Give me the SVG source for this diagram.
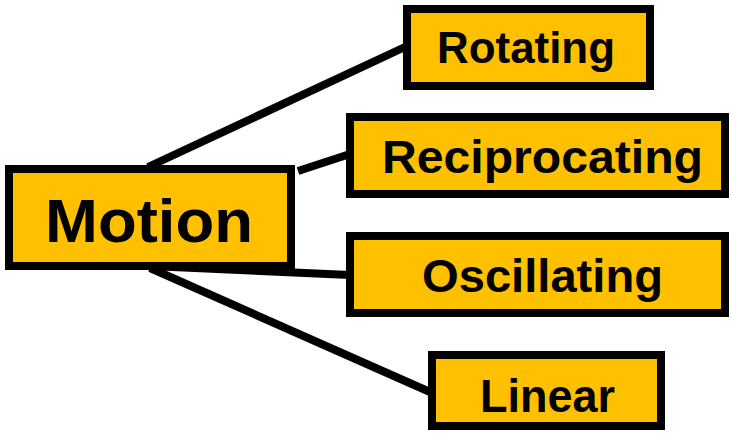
<svg xmlns="http://www.w3.org/2000/svg" width="733" height="436" viewBox="0 0 733 436">
  <style>
    .box { fill: #FFC000; stroke: #000; stroke-width: 8; }
    .link { stroke: #000; stroke-width: 8; fill: none; }
    .lbl { font-family: "Liberation Sans", Arial, sans-serif; font-weight: bold; fill: #000; text-anchor: middle; }
  </style>
  <rect width="733" height="436" fill="#fff"/>
  <g id="connectors">
    <line class="link" x1="148" y1="167" x2="405" y2="47"/>
    <line class="link" x1="298" y1="171" x2="350" y2="154"/>
    <line class="link" x1="150" y1="266" x2="350" y2="275"/>
    <line class="link" x1="150" y1="268" x2="430" y2="392"/>
  </g>
  <g id="motion">
    <rect class="box" x="9" y="169" width="282" height="97"/>
    <text class="lbl" x="149" y="242" font-size="62" textLength="208" lengthAdjust="spacingAndGlyphs">Motion</text>
  </g>
  <g id="rotating">
    <rect class="box" x="407" y="9" width="243" height="77"/>
    <text class="lbl" x="526" y="63" font-size="44" textLength="178" lengthAdjust="spacingAndGlyphs">Rotating</text>
  </g>
  <g id="reciprocating">
    <rect class="box" x="350" y="117" width="375" height="77"/>
    <text class="lbl" x="542.5" y="173" font-size="47" textLength="321" lengthAdjust="spacingAndGlyphs">Reciprocating</text>
  </g>
  <g id="oscillating">
    <rect class="box" x="350" y="236" width="375" height="77"/>
    <text class="lbl" x="542.5" y="292" font-size="47" textLength="241" lengthAdjust="spacingAndGlyphs">Oscillating</text>
  </g>
  <g id="linear">
    <rect class="box" x="432" y="355" width="229" height="71"/>
    <text class="lbl" x="547.5" y="412" font-size="47" textLength="135" lengthAdjust="spacingAndGlyphs">Linear</text>
  </g>
</svg>
